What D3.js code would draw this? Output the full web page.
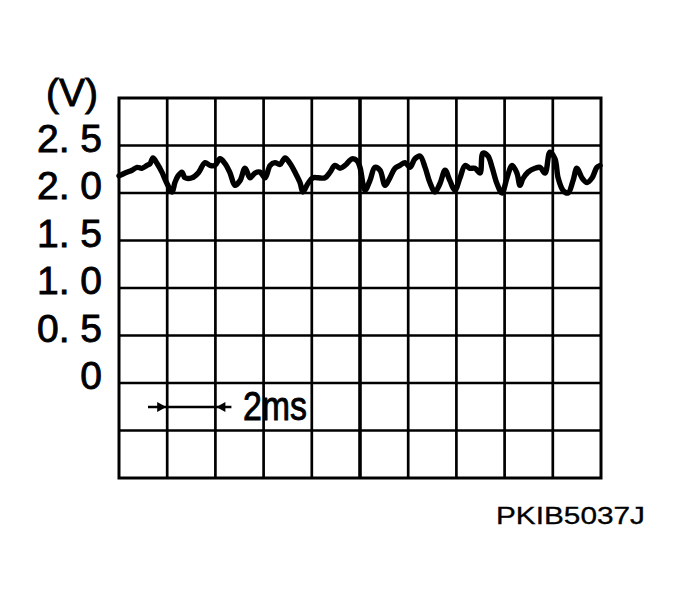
<!DOCTYPE html>
<html>
<head>
<meta charset="utf-8">
<script src="https://cdn.jsdelivr.net/npm/d3@7"></script>
<style>
  html, body { margin: 0; padding: 0; background: #fff; }
  svg { display: block; }
</style>
</head>
<body>
<svg id="chart" width="681" height="602"></svg>
<script>
// ---- data ----
const timeMs = [0,0.25,0.54,0.75,0.95,1.16,1.29,1.41,1.58,1.78,1.99,2.20,2.32,2.45,2.61,2.74,3.03,3.28,3.36,3.57,3.78,3.98,4.19,4.40,4.61,4.81,5.02,5.23,5.44,5.64,5.85,6.06,6.27,6.47,6.68,6.89,7.10,7.30,7.51,7.63,7.84,8.05,8.26,8.55,8.76,8.96,9.17,9.38,9.67,9.88,10.0,10.21,10.41,10.62,10.83,11.04,11.24,11.45,11.66,11.87,12.07,12.28,12.49,12.70,12.90,13.11,13.32,13.53,13.73,13.94,14.15,14.36,14.56,14.77,14.98,15.10,15.31,15.48,15.68,15.89,16.10,16.31,16.51,16.64,16.76,16.97,17.26,17.47,17.68,17.88,18.09,18.22,18.42,18.63,18.84,19.00,19.21,19.42,19.63,19.83,19.96];
const volts = [2.18,2.21,2.24,2.27,2.26,2.29,2.31,2.37,2.31,2.22,2.10,2.01,2.11,2.18,2.22,2.16,2.16,2.21,2.24,2.32,2.29,2.29,2.36,2.31,2.21,2.08,2.13,2.26,2.16,2.21,2.22,2.16,2.29,2.32,2.30,2.37,2.31,2.22,2.11,2.01,2.10,2.16,2.16,2.16,2.22,2.29,2.26,2.29,2.36,2.34,2.27,2.03,2.13,2.27,2.24,2.08,2.16,2.26,2.29,2.32,2.27,2.36,2.39,2.27,2.11,2.01,2.10,2.24,2.13,2.03,2.16,2.29,2.26,2.26,2.21,2.42,2.39,2.27,2.10,2.00,2.16,2.29,2.21,2.08,2.15,2.22,2.26,2.27,2.21,2.43,2.36,2.16,2.03,2.00,2.13,2.26,2.16,2.11,2.16,2.27,2.29];
const yTickValues = [2.5, 2.0, 1.5, 1.0, 0.5, 0];
const yTickLabels = ["2. 5", "2. 0", "1. 5", "1. 0", "0. 5", "0"];
const yUnitLabel = "(V)";
const timeDivLabel = "2ms";
const figureCode = "PKIB5037J";
const xDomain = [0, 20];   // ms, 2 ms/div
const yDomain = [-1, 3];   // V, 0.5 V/div

// ---- scales ----
const x = d3.scaleLinear().domain(xDomain).range([119, 601]);
const y = d3.scaleLinear().domain(yDomain).range([478, 98]);
const svg = d3.select("#chart");
const font = "'Liberation Sans', Arial, sans-serif";

// ---- grid ----
const g = svg.append("g");
const xGrid = d3.range(xDomain[0], xDomain[1] + 0.001, 2);
const yGrid = d3.range(yDomain[0], yDomain[1] + 0.001, 0.5);
g.selectAll("line.v").data(xGrid.slice(1, -1)).join("line")
  .attr("x1", d => x(d)).attr("x2", d => x(d))
  .attr("y1", y(yDomain[1])).attr("y2", y(yDomain[0]))
  .attr("stroke", "#000")
  .attr("stroke-width", d => d === 10 ? 3.6 : 2.7);
g.selectAll("line.h").data(yGrid.slice(1, -1)).join("line")
  .attr("x1", x(xDomain[0])).attr("x2", x(xDomain[1]))
  .attr("y1", d => y(d)).attr("y2", d => y(d))
  .attr("stroke", "#000").attr("stroke-width", 2.7);
g.append("rect")
  .attr("x", x(xDomain[0])).attr("y", y(yDomain[1]))
  .attr("width", x(xDomain[1]) - x(xDomain[0]))
  .attr("height", y(yDomain[0]) - y(yDomain[1]))
  .attr("fill", "none").attr("stroke", "#000").attr("stroke-width", 3);

// ---- waveform ----
const line = d3.line().x((d, i) => x(timeMs[i])).y(d => y(d)).curve(d3.curveCatmullRom.alpha(0.5));
svg.append("path").datum(volts)
  .attr("d", line)
  .attr("fill", "none").attr("stroke", "#000")
  .attr("stroke-width", 5.4)
  .attr("stroke-linejoin", "round").attr("stroke-linecap", "round");

// ---- y labels ----
svg.selectAll("text.yl").data(yTickValues).join("text")
  .attr("x", 102).attr("y", d => y(d) + 6)
  .attr("text-anchor", "end")
  .attr("font-family", font).attr("font-size", 39)
  .attr("stroke", "#000").attr("stroke-width", 0.9)
  .text((d, i) => yTickLabels[i]);
svg.append("text").attr("x", 98).attr("y", 106)
  .attr("text-anchor", "end")
  .attr("font-family", font).attr("font-size", 39)
  .attr("stroke", "#000").attr("stroke-width", 0.9)
  .text(yUnitLabel);

// ---- time-division marker ----
const ay = 407;
const m = svg.append("g").attr("stroke", "#000").attr("fill", "#000");
m.append("line").attr("x1", x(0) + 29).attr("x2", x(4) + 16).attr("y1", ay).attr("y2", ay).attr("stroke-width", 2.4);
m.append("path").attr("d", `M${x(2) - 1},${ay} l-9,-5 l0,10 z`).attr("stroke", "none");
m.append("path").attr("d", `M${x(4) + 1},${ay} l9,-5 l0,10 z`).attr("stroke", "none");
svg.append("text").attr("x", 243).attr("y", 420)
  .attr("font-family", font).attr("font-size", 40)
  .attr("stroke", "#000").attr("stroke-width", 0.9)
  .attr("textLength", 64).attr("lengthAdjust", "spacingAndGlyphs")
  .text(timeDivLabel);

// ---- figure code ----
svg.append("text").attr("x", 496).attr("y", 524)
  .attr("font-family", font).attr("font-size", 23)
  .attr("stroke", "#000").attr("stroke-width", 0.3)
  .attr("textLength", 149).attr("lengthAdjust", "spacingAndGlyphs")
  .text(figureCode);
</script>
</body>
</html>
